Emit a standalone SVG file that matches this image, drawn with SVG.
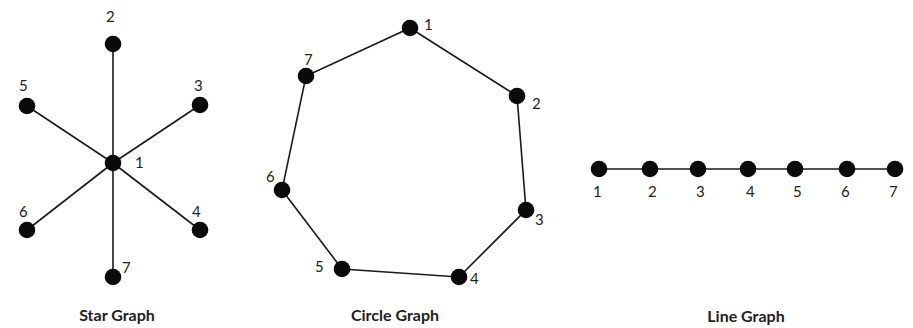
<svg xmlns="http://www.w3.org/2000/svg" width="913" height="328" viewBox="0 0 913 328">
<style>
.e{stroke:#1a1a1a;stroke-width:1.6;fill:none}
.n{fill:#0a0a0a}
.l{font-family:"Lato","Open Sans",sans-serif;font-size:15px;fill:#222}
.t{font-family:"Lato","Open Sans",sans-serif;font-size:16px;font-weight:bold;fill:#222;text-anchor:middle}
</style>
<rect width="913" height="328" fill="#ffffff"/>
<g id="connectors">
<line class="e" x1="113" y1="163" x2="113" y2="44"/>
<line class="e" x1="113" y1="163" x2="27" y2="106"/>
<line class="e" x1="113" y1="163" x2="200" y2="105"/>
<line class="e" x1="113" y1="163" x2="27" y2="230"/>
<line class="e" x1="113" y1="163" x2="200" y2="230"/>
<line class="e" x1="113" y1="163" x2="113" y2="277"/>
<polygon class="e" points="410,28 517,96 526,210 459,277 342,269 282,190 306,76"/>
<line class="e" x1="599" y1="169" x2="895" y2="169"/>
</g>
<g id="star-1"><circle class="n" cx="113" cy="163" r="8.3"/><text class="l" x="135" y="168">1</text></g>
<g id="star-2"><circle class="n" cx="113" cy="44" r="8.3"/><text class="l" x="106" y="22">2</text></g>
<g id="star-3"><circle class="n" cx="200" cy="105" r="8.3"/><text class="l" x="194" y="91">3</text></g>
<g id="star-4"><circle class="n" cx="200" cy="230" r="8.3"/><text class="l" x="192" y="217">4</text></g>
<g id="star-5"><circle class="n" cx="27" cy="106" r="8.3"/><text class="l" x="19" y="91">5</text></g>
<g id="star-6"><circle class="n" cx="27" cy="230" r="8.3"/><text class="l" x="19" y="217">6</text></g>
<g id="star-7"><circle class="n" cx="113" cy="277" r="8.3"/><text class="l" x="122" y="273">7</text></g>
<text class="t" x="117" y="321">Star Graph</text>
<g id="circle-1"><circle class="n" cx="410" cy="28" r="8.3"/><text class="l" x="424" y="30">1</text></g>
<g id="circle-2"><circle class="n" cx="517" cy="96" r="8.3"/><text class="l" x="532" y="109">2</text></g>
<g id="circle-3"><circle class="n" cx="526" cy="210" r="8.3"/><text class="l" x="535" y="225">3</text></g>
<g id="circle-4"><circle class="n" cx="459" cy="277" r="8.3"/><text class="l" x="470" y="284">4</text></g>
<g id="circle-5"><circle class="n" cx="342" cy="269" r="8.3"/><text class="l" x="315" y="272">5</text></g>
<g id="circle-6"><circle class="n" cx="282" cy="190" r="8.3"/><text class="l" x="266" y="182">6</text></g>
<g id="circle-7"><circle class="n" cx="306" cy="76" r="8.3"/><text class="l" x="304" y="65">7</text></g>
<text class="t" x="395" y="321">Circle Graph</text>
<g id="line-1"><circle class="n" cx="599" cy="169" r="8.3"/><text class="l" x="593" y="197">1</text></g>
<g id="line-2"><circle class="n" cx="650" cy="169" r="8.3"/><text class="l" x="648" y="197">2</text></g>
<g id="line-3"><circle class="n" cx="698" cy="169" r="8.3"/><text class="l" x="696" y="197">3</text></g>
<g id="line-4"><circle class="n" cx="748" cy="169" r="8.3"/><text class="l" x="746" y="197">4</text></g>
<g id="line-5"><circle class="n" cx="795" cy="169" r="8.3"/><text class="l" x="793" y="197">5</text></g>
<g id="line-6"><circle class="n" cx="847" cy="169" r="8.3"/><text class="l" x="841" y="197">6</text></g>
<g id="line-7"><circle class="n" cx="895" cy="169" r="8.3"/><text class="l" x="889" y="197">7</text></g>
<text class="t" x="746" y="322">Line Graph</text>
</svg>
